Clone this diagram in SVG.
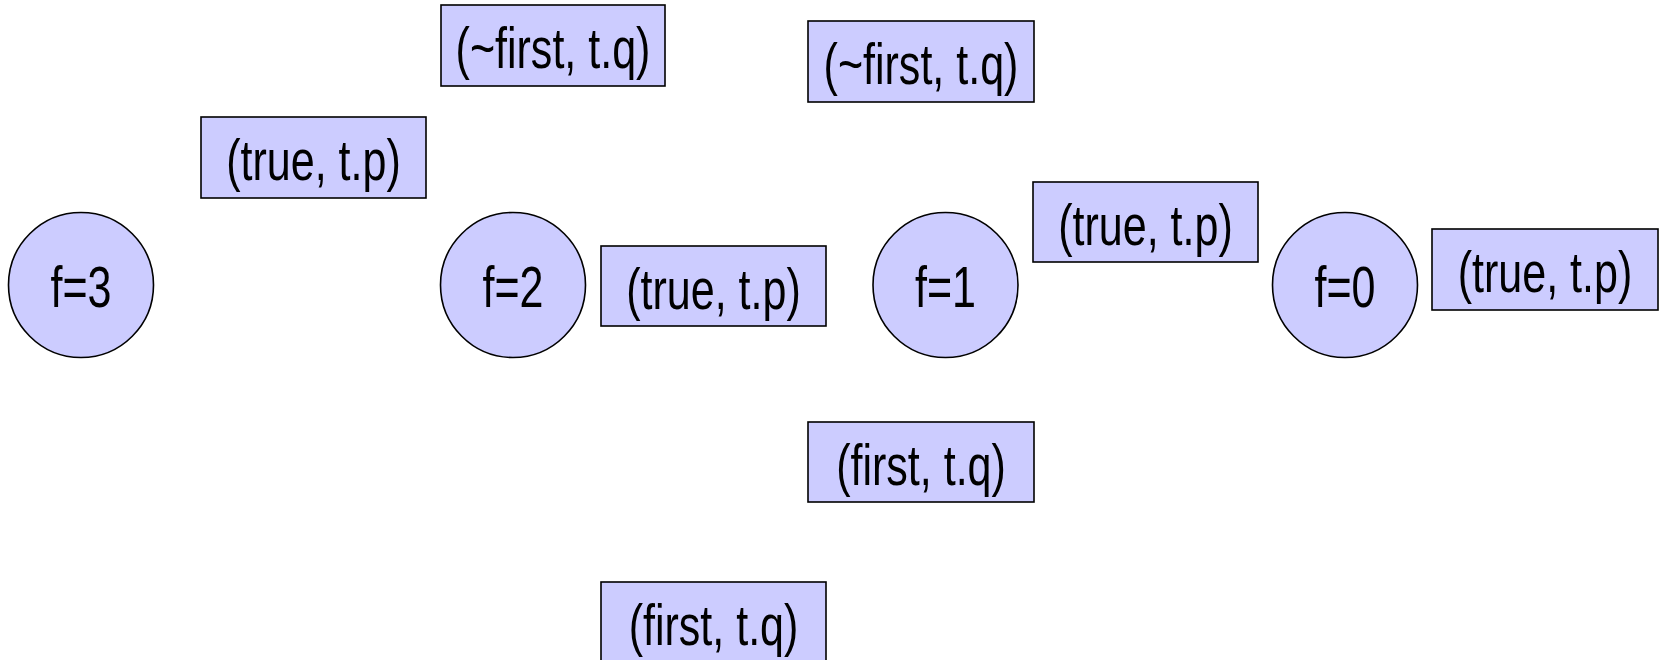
<svg xmlns="http://www.w3.org/2000/svg" width="1662" height="660" viewBox="0 0 1662 660">
  <style>
    .state { fill: #ccccff; stroke: #000; stroke-width: 1.6; }
    .label { fill: #ccccff; stroke: #000; stroke-width: 1.6; }
    .txt { font-family: "Liberation Sans", Arial, sans-serif; font-size: 57px; fill: #000; text-anchor: middle; }
    .nick { stroke: #fff; stroke-width: 1.6; }
  </style>
  <rect width="1662" height="660" fill="#fff"/>

  <!-- connectors (stubs where edges meet the state circles) -->
  <g id="connectors">
    <line class="nick" x1="81" y1="211" x2="81" y2="215"/>
    <line class="nick" x1="130" y1="234" x2="133" y2="231"/>
    <line class="nick" x1="562" y1="234" x2="565" y2="231"/>
    <line class="nick" x1="995" y1="234" x2="998" y2="231"/>
    <line class="nick" x1="1394" y1="234" x2="1397" y2="231"/>
    <line class="nick" x1="1345" y1="356" x2="1345" y2="360"/>
  </g>

  <!-- states -->
  <g id="state-f3">
    <circle class="state" cx="81" cy="285" r="72.5"/>
    <text class="txt" transform="translate(81,307) scale(0.755,1)">f=3</text>
  </g>
  <g id="state-f2">
    <circle class="state" cx="513" cy="285" r="72.5"/>
    <text class="txt" transform="translate(513,307) scale(0.755,1)">f=2</text>
  </g>
  <g id="state-f1">
    <circle class="state" cx="945.5" cy="285" r="72.5"/>
    <text class="txt" transform="translate(945.5,307) scale(0.755,1)">f=1</text>
  </g>
  <g id="state-f0">
    <circle class="state" cx="1345" cy="285" r="72.5"/>
    <text class="txt" transform="translate(1345,307) scale(0.755,1)">f=0</text>
  </g>

  <!-- transition labels -->
  <g id="label-a">
    <rect class="label" x="441" y="5" width="224" height="81"/>
    <text class="txt" transform="translate(553,68) scale(0.755,1)">(~first, t.q)</text>
  </g>
  <g id="label-b">
    <rect class="label" x="201" y="117" width="225" height="81"/>
    <text class="txt" transform="translate(313.5,180) scale(0.755,1)">(true, t.p)</text>
  </g>
  <g id="label-c">
    <rect class="label" x="808" y="21" width="226" height="81"/>
    <text class="txt" transform="translate(921,84) scale(0.755,1)">(~first, t.q)</text>
  </g>
  <g id="label-d">
    <rect class="label" x="1033" y="182" width="225" height="80"/>
    <text class="txt" transform="translate(1145.5,245) scale(0.755,1)">(true, t.p)</text>
  </g>
  <g id="label-e">
    <rect class="label" x="601" y="246" width="225" height="80"/>
    <text class="txt" transform="translate(713.5,309) scale(0.755,1)">(true, t.p)</text>
  </g>
  <g id="label-f">
    <rect class="label" x="1432" y="229" width="226" height="81"/>
    <text class="txt" transform="translate(1545,292) scale(0.755,1)">(true, t.p)</text>
  </g>
  <g id="label-g">
    <rect class="label" x="808" y="422" width="226" height="80"/>
    <text class="txt" transform="translate(921,485) scale(0.755,1)">(first, t.q)</text>
  </g>
  <g id="label-h">
    <rect class="label" x="601" y="582" width="225" height="80"/>
    <text class="txt" transform="translate(713.5,645) scale(0.755,1)">(first, t.q)</text>
  </g>
</svg>
